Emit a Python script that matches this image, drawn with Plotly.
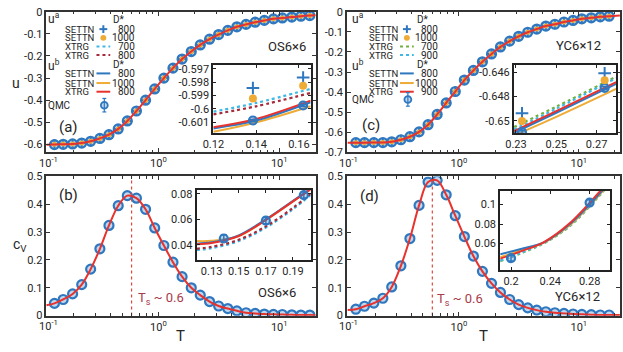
import plotly.graph_objects as go

W, H = 623, 352

BLUE = '#2f78c0'
ORANGE = '#eeab35'
RED = '#e8322e'
DRED = '#a52a3a'
LBLUE = '#3fb8e6'
GREEN = '#72b043'
TXT = '#262626'
FONT = 'Roboto'

# ======================= data =======================
# temperature grid of the QMC points in the main panels
T = [0.138, 0.163, 0.195, 0.232, 0.275, 0.328, 0.39, 0.465, 0.553, 0.658,
     0.783, 0.932, 1.11, 1.32, 1.57, 1.87, 2.22, 2.65, 3.15, 3.75,
     4.46, 5.31, 6.32, 7.52, 8.95, 10.6, 12.7, 15.1, 17.9]

# (a) OS6x6 energy
u_os = [-0.6009, -0.5997, -0.598, -0.594, -0.586, -0.573, -0.556, -0.530, -0.494, -0.449,
        -0.400, -0.349, -0.300, -0.255, -0.214, -0.180, -0.150, -0.124, -0.103, -0.084,
        -0.068, -0.057, -0.047, -0.039, -0.032, -0.028, -0.024, -0.020, -0.017]
# (c) YC6x12 energy
u_yc = [-0.6515, -0.6514, -0.6512, -0.6509, -0.6473, -0.637, -0.622, -0.598, -0.562, -0.511,
        -0.454, -0.397, -0.340, -0.292, -0.249, -0.210, -0.175, -0.146, -0.122, -0.102,
        -0.086, -0.071, -0.062, -0.051, -0.043, -0.035, -0.030, -0.025, -0.022]
# (b) OS6x6 specific heat
cv_os = [0.044, 0.058, 0.078, 0.1115, 0.167, 0.240, 0.324, 0.395, 0.431, 0.422,
         0.382, 0.315, 0.252, 0.192, 0.140, 0.100, 0.0736, 0.0506, 0.0345, 0.0253,
         0.0172, 0.0103, 0.008, 0.0057, 0.0046, 0.004, 0.003, 0.002, 0.002]
# (d) YC6x12 specific heat
cv_yc = [0.023, 0.0336, 0.045, 0.0625, 0.103, 0.179, 0.277, 0.396, 0.480, 0.486,
         0.434, 0.359, 0.284, 0.214, 0.159, 0.116, 0.0833, 0.0579, 0.0394, 0.0278,
         0.0197, 0.0139, 0.0104, 0.0081, 0.0058, 0.0046, 0.0035, 0.0023, 0.0023]

# curve end points (lines run to the frame)
T_lo, T_hi = 0.118, 22.0
u_os_ends = [-0.6016, -0.014]
u_yc_ends = [-0.6517, -0.018]
cv_os_ends = [0.037, 0.0015]
cv_yc_ends = [0.020, 0.0018]

T_s = 0.6

# inset (a)
ia_T_pts = [0.1385, 0.162]
ia_qmc = [-0.60086, -0.59974]
ia_qmc_err = [0.00008, 0.00008]
ia_settn800_ua = [-0.59843, -0.59766]
ia_settn1000_ua = [-0.59921, -0.59826]
ia_T_line = [0.12, 0.14, 0.1655]
ia_xtrg700_ua = [-0.6002, -0.59955, -0.5985]
ia_xtrg800_ua = [-0.6004, -0.5998, -0.5988]
ia_settn800_ub = [-0.60145, -0.60086, -0.5995]
ia_settn1000_ub = [-0.6017, -0.6010, -0.59979]
ia_xtrg800_ub = [-0.60136, -0.60074, -0.59938]

# inset (c)
ic_T_pts = [0.233, 0.274]
ic_qmc = [-0.65092, -0.6473]
ic_qmc_err = [0.00012, 0.00012]
ic_settn800_ua = [-0.64938, -0.6461]
ic_settn1000_ua = [-0.6500, -0.64667]
ic_T_line = [0.229, 0.25, 0.2797]
ic_xtrg700_ua = [-0.6505, -0.64883, -0.64638]
ic_xtrg900_ua = [-0.6507, -0.6490, -0.6465]
ic_settn800_ub = [-0.65097, -0.64933, -0.64697]
ic_settn1000_ub = [-0.6512, -0.64967, -0.64738]
ic_xtrg900_ub = [-0.65083, -0.6492, -0.64683]

# inset (b)
ib_T_pts = [0.139, 0.17, 0.198]
ib_qmc = [0.045, 0.059, 0.079]
ib_qmc_err = [0.003, 0.0025, 0.0025]
ib_T_line = [0.119, 0.13, 0.15, 0.17, 0.19, 0.203]
ib_xtrg700 = [0.0360, 0.0375, 0.0430, 0.0535, 0.0680, 0.0790]
ib_xtrg800_dot = [0.0370, 0.0385, 0.0440, 0.0545, 0.0690, 0.0800]
ib_settn800 = [0.0410, 0.0420, 0.0475, 0.0600, 0.0745, 0.0840]
ib_settn1000 = [0.0430, 0.0432, 0.0470, 0.0595, 0.0740, 0.0835]
ib_xtrg800 = [0.0405, 0.0415, 0.0470, 0.0595, 0.0740, 0.0835]

# inset (d)
id_T_pts = [0.2, 0.28]
id_qmc = [0.045, 0.102]
id_qmc_err = [0.003, 0.003]
id_T_line = [0.189, 0.21, 0.234, 0.26, 0.29, 0.301]
id_xtrg700 = [0.042, 0.050, 0.0605, 0.078, 0.109, 0.122]
id_xtrg900_dot = [0.0425, 0.0505, 0.061, 0.0785, 0.110, 0.123]
id_settn800 = [0.049, 0.0545, 0.0615, 0.080, 0.111, 0.124]
id_settn1000 = [0.046, 0.053, 0.0612, 0.079, 0.110, 0.123]
id_xtrg900 = [0.0445, 0.052, 0.0618, 0.081, 0.113, 0.126]

# ======================= helpers =======================
def px(x):
    return x / W


def py(y):
    return 1 - y / H


def dom(x0, x1, y0, y1):
    return [px(x0), px(x1)], [py(y1), py(y0)]


minor_log = [0.2, 0.3, 0.4, 0.5, 0.6, 0.7, 0.8, 0.9, 2, 3, 4, 5, 6, 7, 8, 9, 20]


def main_x(d, rng, anchor):
    return dict(domain=d, type='log', range=rng, anchor=anchor,
                tickvals=[1, 10], ticktext=['10<sup>0</sup>', '10<sup>1</sup>'],
                ticks='inside', ticklen=4, tickcolor='#333',
                minor=dict(tickvals=minor_log, ticks='inside', ticklen=2.5, tickcolor='#333'),
                showline=True, linecolor='#333', linewidth=1.5, mirror='ticks',
                showgrid=False, zeroline=False, tickfont=dict(size=11, color=TXT))


def main_y(d, rng, anchor, vals, text):
    return dict(domain=d, range=rng, anchor=anchor, tickvals=vals, ticktext=text,
                ticks='inside', ticklen=4, tickcolor='#333',
                showline=True, linecolor='#333', linewidth=1.5, mirror='ticks',
                showgrid=False, zeroline=False, tickfont=dict(size=11, color=TXT))


def inset_ax(d, rng, anchor, vals, text):
    return dict(domain=d, range=rng, anchor=anchor, tickvals=vals, ticktext=text,
                ticks='inside', ticklen=3, tickcolor='#222',
                showline=True, linecolor='#222', linewidth=2, mirror='ticks',
                showgrid=False, zeroline=False, tickfont=dict(size=11, color=TXT))


fig = go.Figure()


def line(x, y, ax, color, dash='solid', width=2):
    fig.add_trace(go.Scatter(x=x, y=y, xaxis=ax[0], yaxis=ax[1], mode='lines',
                             line=dict(color=color, dash=dash, width=width, shape='spline'),
                             showlegend=False, hoverinfo='skip'))


def qmc(x, y, ax, err=None, size=9):
    fig.add_trace(go.Scatter(x=x, y=y, xaxis=ax[0], yaxis=ax[1], mode='markers',
                             marker=dict(symbol='circle', size=size, color='rgba(47,120,192,0.3)',
                                         line=dict(width=2.2, color=BLUE)),
                             error_y=None if err is None else dict(type='data', array=err,
                                                                   color=BLUE, thickness=1.5, width=3),
                             showlegend=False))


def plus(x, y, ax, size=8):
    fig.add_trace(go.Scatter(x=x, y=y, xaxis=ax[0], yaxis=ax[1], mode='markers',
                             marker=dict(symbol='cross-thin', size=size, color=BLUE,
                                         line=dict(width=2, color=BLUE)),
                             showlegend=False))


def dot(x, y, ax, size=7):
    fig.add_trace(go.Scatter(x=x, y=y, xaxis=ax[0], yaxis=ax[1], mode='markers',
                             marker=dict(symbol='circle', size=size, color=ORANGE),
                             showlegend=False))


# ======================= main panels =======================
A = ('x', 'y')
B = ('x2', 'y2')
C = ('x3', 'y3')
D = ('x4', 'y4')

# (a)
plus(T, ia_settn800_ua + u_os[2:], A, size=7)
qmc(T, u_os, A)
dot(T, ia_settn1000_ua + u_os[2:], A, size=5)
line([T_lo] + T + [T_hi], u_os_ends[:1] + u_os + u_os_ends[1:], A, RED)

# (c)
plus(T, u_yc, C, size=7)
qmc(T, u_yc, C)
dot(T, u_yc, C, size=5)
line([T_lo] + T + [T_hi], u_yc_ends[:1] + u_yc + u_yc_ends[1:], C, RED)

# (b)
qmc(T, cv_os, B)
line([T_lo] + T + [T_hi], cv_os_ends[:1] + cv_os + cv_os_ends[1:], B, RED)
fig.add_trace(go.Scatter(x=[T_s, T_s], y=[0, 0.5], xaxis='x2', yaxis='y2', mode='lines',
                         line=dict(color='#e2463b', dash='dot', width=1.2), showlegend=False))

# (d)
qmc(T, cv_yc, D)
line([T_lo] + T + [T_hi], cv_yc_ends[:1] + cv_yc + cv_yc_ends[1:], D, RED)
fig.add_trace(go.Scatter(x=[T_s, T_s], y=[0, 0.5], xaxis='x4', yaxis='y4', mode='lines',
                         line=dict(color='#e2463b', dash='dot', width=1.2), showlegend=False))

# ======================= insets =======================
IA = ('x5', 'y5')
IB = ('x6', 'y6')
IC = ('x7', 'y7')
ID = ('x8', 'y8')

line(ia_T_line, ia_xtrg700_ua, IA, LBLUE, 'dot', 2.2)
line(ia_T_line, ia_xtrg800_ua, IA, DRED, 'dot', 2.2)
line(ia_T_line, ia_settn1000_ub, IA, ORANGE)
line(ia_T_line, ia_settn800_ub, IA, BLUE)
line(ia_T_line, ia_xtrg800_ub, IA, RED)
qmc(ia_T_pts, ia_qmc, IA, ia_qmc_err, size=8)
plus(ia_T_pts, ia_settn800_ua, IA, size=9)
dot(ia_T_pts, ia_settn1000_ua, IA, size=8)

line(ic_T_line, ic_xtrg700_ua, IC, GREEN, 'dot', 2.2)
line(ic_T_line, ic_xtrg900_ua, IC, LBLUE, 'dot', 2.2)
line(ic_T_line, ic_settn1000_ub, IC, ORANGE)
line(ic_T_line, ic_settn800_ub, IC, BLUE)
line(ic_T_line, ic_xtrg900_ub, IC, RED)
qmc(ic_T_pts, ic_qmc, IC, ic_qmc_err, size=8)
plus(ic_T_pts, ic_settn800_ua, IC, size=9)
dot(ic_T_pts, ic_settn1000_ua, IC, size=8)

line(ib_T_line, ib_xtrg700, IB, LBLUE, 'dot', 2.2)
line(ib_T_line, ib_xtrg800_dot, IB, DRED, 'dot', 2.2)
line(ib_T_line, ib_settn1000, IB, ORANGE)
line(ib_T_line, ib_settn800, IB, BLUE)
line(ib_T_line, ib_xtrg800, IB, RED)
qmc(ib_T_pts, ib_qmc, IB, ib_qmc_err, size=8)

line(id_T_line, id_xtrg700, ID, GREEN, 'dot', 2.2)
line(id_T_line, id_xtrg900_dot, ID, LBLUE, 'dot', 2.2)
line(id_T_line, id_settn1000, ID, ORANGE)
line(id_T_line, id_settn800, ID, BLUE)
line(id_T_line, id_xtrg900, ID, RED)
qmc(id_T_pts, id_qmc, ID, id_qmc_err, size=8)

# ======================= axes =======================
ax_a = dom(36, 310, 6, 151.5)
ax_c = dom(342, 620, 6, 152)
ax_b = dom(36, 310, 177, 321.5)
ax_d = dom(342, 620, 177, 321.5)
in_a = dom(206, 305, 61, 132)
in_c = dom(512, 616, 61, 132)
in_b = dom(189, 305, 191, 264)
in_d = dom(498, 610, 192, 274)

rng_ab = [-0.927, 1.30]
rng_cd = [-0.934, 1.344]

u_a_ticks = [0, -0.1, -0.2, -0.3, -0.4, -0.5, -0.6]
u_c_ticks = [0, -0.1, -0.2, -0.3, -0.4, -0.5, -0.6, -0.7]
cv_ticks = [0, 0.1, 0.2, 0.3, 0.4, 0.5]

fig.update_layout(
    xaxis=main_x(ax_a[0], rng_ab, 'y'),
    yaxis=main_y(ax_a[1], [-0.634, 0], 'x', u_a_ticks, ['0', '-0.1', '-0.2', '-0.3', '-0.4', '-0.5', '-0.6']),
    xaxis2=main_x(ax_b[0], rng_ab, 'y2'),
    yaxis2=main_y(ax_b[1], [0, 0.5], 'x2', cv_ticks, ['0', '0.1', '0.2', '0.3', '0.4', '0.5']),
    xaxis3=main_x(ax_c[0], rng_cd, 'y3'),
    yaxis3=main_y(ax_c[1], [-0.7, 0], 'x3', u_c_ticks,
                  ['0', '-0.1', '-0.2', '-0.3', '-0.4', '-0.5', '-0.6', '-0.7']),
    xaxis4=main_x(ax_d[0], rng_cd, 'y4'),
    yaxis4=main_y(ax_d[1], [0, 0.5], 'x4', cv_ticks, ['0', '0.1', '0.2', '0.3', '0.4', '0.5']),
    xaxis5=inset_ax(in_a[0], [0.12, 0.1655], 'y5', [0.12, 0.14, 0.16], ['0.12', '0.14', '0.16']),
    yaxis5=inset_ax(in_a[1], [-0.6018, -0.5967], 'x5', [-0.597, -0.598, -0.599, -0.6, -0.601],
                    ['-0.597', '-0.598', '-0.599', '-0.6', '-0.601']),
    xaxis6=inset_ax(in_b[0], [0.119, 0.203], 'y6', [0.13, 0.15, 0.17, 0.19], ['0.13', '0.15', '0.17', '0.19']),
    yaxis6=inset_ax(in_b[1], [0.028, 0.083], 'x6', [0.04, 0.06, 0.08], ['0.04', '0.06', '0.08']),
    xaxis7=inset_ax(in_c[0], [0.229, 0.2797], 'y7', [0.23, 0.25, 0.27], ['0.23', '0.25', '0.27']),
    yaxis7=inset_ax(in_c[1], [-0.6510, -0.6454], 'x7', [-0.646, -0.648, -0.65], ['-0.646', '-0.648', '-0.65']),
    xaxis8=inset_ax(in_d[0], [0.189, 0.301], 'y8', [0.2, 0.24, 0.28], ['0.2', '0.24', '0.28']),
    yaxis8=inset_ax(in_d[1], [0.033, 0.114], 'x8', [0.06, 0.08, 0.1], ['0.06', '0.08', '0.1']),
)

# ======================= text and legend =======================
ann = []
shapes = []


def text(x, y, s, size=10, anchor='left', color=TXT, angle=0):
    ann.append(dict(x=px(x), y=py(y), xref='paper', yref='paper', text=s, showarrow=False,
                    xanchor=anchor, yanchor='middle', textangle=angle,
                    font=dict(family=FONT, size=size, color=color)))


def seg(x0, y0, x1, y1, color, width=2, dash='solid'):
    shapes.append(dict(type='line', xref='paper', yref='paper', x0=px(x0), y0=py(y0),
                       x1=px(x1), y1=py(y1), line=dict(color=color, width=width, dash=dash)))


def sym(kind, x, y, color):
    if kind == 'plus':
        seg(x - 4, y, x + 4, y, color)
        seg(x, y - 4, x, y + 4, color)
    elif kind == 'dot':
        shapes.append(dict(type='circle', xref='paper', yref='paper', x0=px(x - 3), x1=px(x + 3),
                           y0=py(y + 3), y1=py(y - 3), fillcolor=color, line=dict(width=0)))
    elif kind == 'dotline':
        seg(x - 7, y, x + 7, y, color, 2, 'dot')
    elif kind == 'line':
        seg(x - 7, y, x + 7, y, color, 2)
    elif kind == 'qmc':
        seg(x, y - 7, x, y + 7, BLUE, 1.2)
        seg(x - 2, y - 7, x + 2, y - 7, BLUE, 1.2)
        seg(x - 2, y + 7, x + 2, y + 7, BLUE, 1.2)
        shapes.append(dict(type='circle', xref='paper', yref='paper', x0=px(x - 3.5), x1=px(x + 3.5),
                           y0=py(y + 3.5), y1=py(y - 3.5), fillcolor='rgba(47,120,192,0.3)',
                           line=dict(color=BLUE, width=1.8)))


def legend(x0, rows, y_ua, y_ub, y_qmc):
    text(x0, y_ua, 'u<sup>a</sup>', 12)
    text(x0 + 66, y_ua + 2, 'D*', 10)
    text(x0, y_ub, 'u<sup>b</sup>', 12)
    text(x0 + 66, y_ub, 'D*', 10)
    for name, kind, color, num, y in rows:
        text(x0 + 17, y, name, 9.5)
        sym(kind, x0 + 58, y, color)
        text(x0 + 92, y, num, 10, anchor='right')
    text(x0, y_qmc, 'QMC', 10)
    sym('qmc', x0 + 59, y_qmc, BLUE)


legend(36, [('SETTN', 'plus', BLUE, '800', 24), ('SETTN', 'dot', ORANGE, '1000', 33),
            ('XTRG', 'dotline', LBLUE, '700', 42), ('XTRG', 'dotline', DRED, '800', 51),
            ('SETTN', 'line', BLUE, '800', 70), ('SETTN', 'line', ORANGE, '1000', 80),
            ('XTRG', 'line', RED, '800', 89)], 12, 61, 103)
legend(345, [('SETTN', 'plus', BLUE, '800', 24), ('SETTN', 'dot', ORANGE, '1000', 33),
             ('XTRG', 'dotline', GREEN, '700', 42), ('XTRG', 'dotline', LBLUE, '900', 51),
             ('SETTN', 'line', BLUE, '800', 70), ('SETTN', 'line', ORANGE, '1000', 80),
             ('XTRG', 'line', RED, '900', 89)], 12, 61, 97)

text(47, 126, '(a)', 15)
text(355, 124, '(c)', 15)
text(47, 196, '(b)', 15)
text(353, 197, '(d)', 15)
text(302, 42, 'OS6×6', 13, anchor='right')
text(603, 41, 'YC6×12', 13, anchor='right')
text(292, 298, 'OS6×6', 13, anchor='right')
text(602, 302, 'YC6×12', 13, anchor='right')
text(127, 304, 'T<sub>s</sub> ~ 0.6', 13, color='#a83a4b')
text(432, 305, 'T<sub>s</sub> ~ 0.6', 13, color='#a83a4b')
text(5, 80, 'u', 14, anchor='center')
text(9, 248, 'c<sub>V</sub>', 14, anchor='center')
text(173, 343, 'T', 15, anchor='center')
text(481, 343, 'T', 15, anchor='center')
# decade label at the left frame edge
for xx, yy in [(38, 162), (344, 162), (38, 332), (344, 332)]:
    text(xx, yy, '10<sup>-1</sup>', 11, anchor='center')

fig.update_layout(width=W, height=H, margin=dict(l=0, r=0, t=0, b=0),
                  paper_bgcolor='white', plot_bgcolor='white',
                  font=dict(family=FONT, color=TXT), showlegend=False,
                  annotations=ann, shapes=shapes)

fig.write_html('out.html', config={'displayModeBar': False},
               post_script="document.body.style.margin='0px';")
